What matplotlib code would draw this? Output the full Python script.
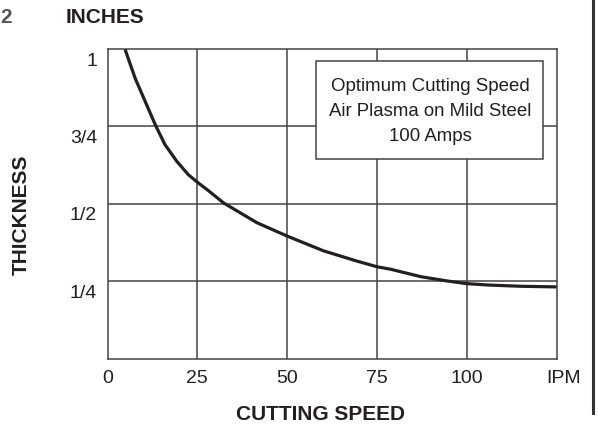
import matplotlib
matplotlib.use('Agg')
import matplotlib.pyplot as plt
from matplotlib.lines import Line2D
from matplotlib.transforms import offset_copy

# curve: cutting speed (IPM) vs thickness (inches)
speed = [4.9, 7.7, 10.5, 13.3, 16.0, 19.3, 22.5, 25.2, 27.7, 32.3, 41.6, 50, 60.2, 69.5, 75,
         78.8, 87.2, 94.6, 100, 106, 115, 125]
thickness = [0.997, 0.904, 0.829, 0.754, 0.69, 0.636, 0.593, 0.567, 0.545, 0.502, 0.438, 0.395,
             0.347, 0.314, 0.296, 0.288, 0.264, 0.25, 0.2415, 0.237, 0.233, 0.231]

x_ticks = [0, 25, 50, 75, 100]
x_labels = ['0', '25', '50', '75', '100']
y_ticks = [0.25, 0.5, 0.75, 1.0]
y_labels = ['1/4', '1/2', '3/4', '1']

box_lines = ['Optimum Cutting Speed', 'Air Plasma on Mild Steel', '100 Amps']

plt.rcParams['font.family'] = ['Liberation Sans', 'DejaVu Sans']

W, H = 598, 425
fig = plt.figure(figsize=(W / 100, H / 100), dpi=100)
ax = fig.add_axes([107.5 / W, 1 - 358.5 / H, (556.5 - 107.5) / W, (358.5 - 48.5) / H])

grid_col = '#444444'
txt_col = '#231f20'

ax.set_xlim(0, 125)
ax.set_ylim(0, 1)
for x in x_ticks[1:]:
    ax.axvline(x, color=grid_col, lw=1.1, zorder=1)
for y in y_ticks[:-1]:
    ax.axhline(y, color=grid_col, lw=1.1, zorder=1)
for s in ax.spines.values():
    s.set_color(grid_col)
    s.set_linewidth(1.1)
ax.set_xticks([])
ax.set_yticks([])

ax.plot(speed, thickness, color=txt_col, lw=2.3, zorder=3, solid_capstyle='butt',
        solid_joinstyle='round')

# x labels below the axis
xt = offset_copy(ax.get_xaxis_transform(), fig=fig, x=0, y=-20, units='dots')
for x, lab in zip(x_ticks, x_labels):
    ax.text(x, 0, lab, transform=xt, ha='center', va='center', fontsize=14, color=txt_col)
ax.text(127, 0, 'IPM', transform=xt, ha='center', va='center', fontsize=14, color=txt_col)

# y labels sit a bit below their grid lines
yt = offset_copy(ax.get_yaxis_transform(), fig=fig, x=-10.5, y=-12.5, units='dots')
for y, lab in zip(y_ticks, y_labels):
    ax.text(0, y, lab, transform=yt, ha='right', va='center', fontsize=14, color=txt_col)

fig.text(320 / W, 1 - 414 / H, 'CUTTING SPEED', ha='center', va='center',
         fontsize=15, fontweight='bold', color=txt_col)
fig.text(21 / W, 1 - 215 / H, 'THICKNESS', ha='center', va='center', rotation=90,
         fontsize=15, fontweight='bold', color=txt_col)
fig.text(105 / W, 1 - 17.5 / H, 'INCHES', ha='center', va='center',
         fontsize=15, fontweight='bold', color=txt_col)
fig.text(0.5 / W, 1 - 17.5 / H, '2', ha='left', va='center',
         fontsize=15, fontweight='bold', color='#555555')

# annotation box
bx0, bx1, by0, by1 = 316, 543.3, 61, 159.3
fig.patches.append(plt.Rectangle((bx0 / W, 1 - by1 / H), (bx1 - bx0) / W, (by1 - by0) / H,
                                 transform=fig.transFigure, facecolor='white',
                                 edgecolor=grid_col, lw=1.1, zorder=5))
for i, line in enumerate(box_lines):
    fig.text(430 / W, 1 - (86.7 + 25 * i) / H, line, ha='center', va='center',
             fontsize=13.4, color=txt_col, zorder=6)

# page border on the right
fig.add_artist(Line2D([593 / W, 593 / W], [1, 1 - 413 / H], transform=fig.transFigure,
                      color='#333333', lw=2.2))

fig.savefig('out.png', dpi=100)
